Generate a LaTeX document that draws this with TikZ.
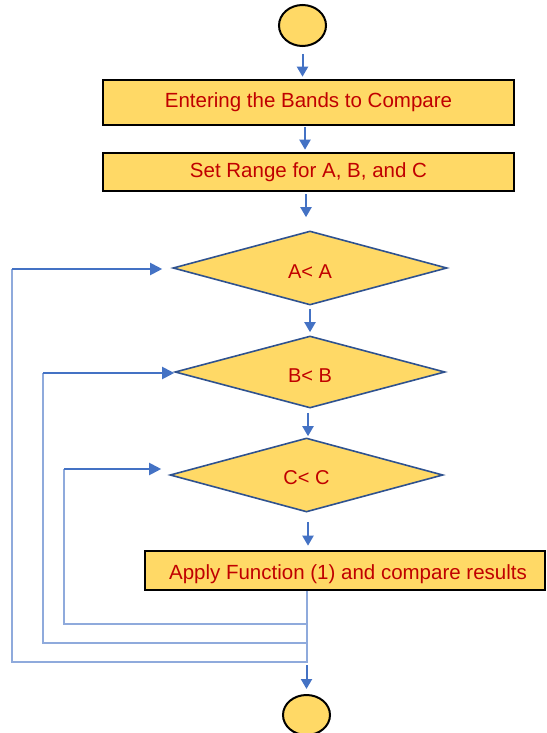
\documentclass[tikz,border=0pt]{standalone}
\usepackage{fontspec}
\setmainfont{Liberation Sans}
\usetikzlibrary{shapes.geometric,arrows.meta}
\definecolor{fillY}{RGB}{255,217,102}
\definecolor{txtR}{RGB}{192,0,0}
\definecolor{arrB}{RGB}{68,114,196}
\definecolor{loopB}{RGB}{143,170,220}
\definecolor{dmdB}{RGB}{47,82,143}
\begin{document}
\begin{tikzpicture}[x=1pt,y=-1pt,
  term/.style={ellipse, draw=black, line width=2pt, fill=fillY, minimum width=47pt, minimum height=41pt, inner sep=0pt},
  procbox/.style={rectangle, draw=black, line width=2.6pt, fill=fillY, text=txtR, font=\fontsize{20.5}{24}\selectfont, inner sep=0pt},
  decide/.style={diamond, draw=dmdB, line width=1.6pt, fill=fillY, text=txtR, font=\fontsize{20}{24}\selectfont, inner sep=0pt},
  arr/.style={draw=arrB, line width=2pt, -{Triangle[length=10pt,width=11pt]}},
  loopline/.style={draw=loopB, line width=1.3pt},
  looparr/.style={draw=arrB, line width=2pt, -{Triangle[length=12pt,width=12pt]}}
]
\useasboundingbox (0,0) rectangle (546,733);
\clip (0,0) rectangle (546,733);

% nodes
\node[term] (start) at (302.5,25.5) {};
\node[procbox, minimum width=411pt, minimum height=45pt] (enter) at (308.5,102.5) {Entering the Bands to Compare};
\node[procbox, minimum width=411pt, minimum height=38pt] (range) at (308.5,172) {Set Range for A, B, and C};
\node[decide, minimum width=274pt, minimum height=74pt] (da) at (310,268) {\raisebox{0pt}[20.4pt][0pt]{A< A}};
\node[decide, minimum width=270pt, minimum height=72pt] (db) at (310,372) {\raisebox{0pt}[20.4pt][0pt]{B< B}};
\node[decide, minimum width=273pt, minimum height=74pt] (dc) at (306.5,475) {\raisebox{0pt}[18.4pt][0pt]{C< C}};
\node[procbox, minimum width=400pt, minimum height=39pt] (apply) at (345,570.5) {\hspace{6pt}\raisebox{0pt}[23pt][4.3pt]{Apply Function (1) and compare results}};
\node[term, minimum height=40pt] (stop) at (306.5,715) {};

% main flow arrows
\draw[arr, shorten <=7pt, shorten >=2pt] (start.south) -- (start.south |- enter.north);
\draw[arr, shorten <=1pt, shorten >=2pt] ([xshift=-3.5pt]enter.south) -- ([xshift=-3.5pt]enter.south |- range.north);
\draw[arr, shorten <=2pt, shorten >=13pt] ([xshift=-2.5pt]range.south) -- ([xshift=-2.5pt]range.south |- da.north);
\draw[arr, shorten <=3pt, shorten >=3pt] (da.south) -- (db.north);
\draw[arr, shorten <=4pt, shorten >=1pt] ([xshift=-2pt]db.south) -- ([xshift=-2pt]db.south |- dc.north);
\draw[arr, shorten <=9pt, shorten >=4pt] ([xshift=1.5pt]dc.south) -- ([xshift=1.5pt]dc.south |- apply.north);

% loop-back lines
\coordinate (jc) at (307,624);
\coordinate (jb) at (307,643);
\coordinate (ja) at (307,662);
\coordinate (lc1) at (64,624);
\coordinate (lc2) at (64,469);
\coordinate (lb1) at (43,643);
\coordinate (lb2) at (43,373);
\coordinate (la1) at (12,662);
\coordinate (la2) at (12,269);

\draw[loopline] (apply.south -| jc) -- (jc) -- (lc1) -- (lc2);
\draw[loopline] (jc) -- (jb) -- (lb1) -- (lb2);
\draw[loopline] (jb) -- (ja) -- (la1) -- (la2);

\draw[looparr, shorten >=8pt] (lc2) -- (lc2 -| dc.west);
\draw[looparr] (lb2) -- (lb2 -| db.west);
\draw[looparr, shorten >=10pt] (la2) -- (la2 -| da.west);

\draw[arr, shorten <=3pt, shorten >=5pt] (ja -| stop.north) -- (stop.north);
\end{tikzpicture}
\end{document}
